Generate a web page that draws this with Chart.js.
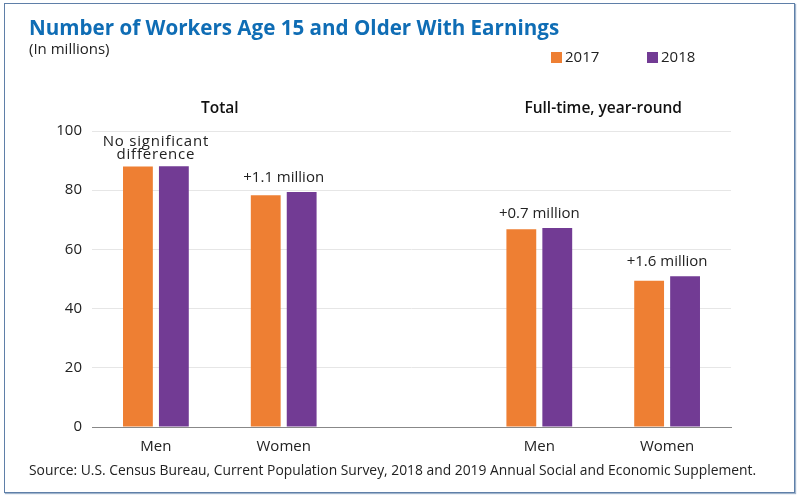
<!DOCTYPE html>
<html>
<head>
<meta charset="utf-8">
<script src="https://cdn.jsdelivr.net/npm/chart.js@4"></script>
<style>
  html, body { margin: 0; padding: 0; background: #fff; }
  #wrap { position: relative; width: 800px; height: 498px; }
  #frame { position: absolute; left: 4px; top: 3px; width: 789px; height: 488px;
           border: 1px solid #5f7fa8; box-shadow: 1px 1px 1px #9fb4cc; }
  canvas { position: absolute; left: 0; top: 0; }
</style>
</head>
<body>
<div id="wrap">
  <div id="frame"></div>
  <canvas id="chart" width="800" height="498"></canvas>
</div>
<script>
// chart data
const categories = ['Men', 'Women', '', 'Men', 'Women'];
const years = ['2017', '2018'];
const values2017 = [88.0, 78.3, null, 66.8, 49.4];
const values2018 = [88.1, 79.4, null, 67.2, 50.9];
const yTicks = [0, 20, 40, 60, 80, 100];
const notes = [['No significant', 'difference'], ['+1.1 million'], null, ['+0.7 million'], ['+1.6 million']];
const panels = [
    { label: 'Total', from: 0, to: 1 },
    { label: 'Full-time, year-round', from: 3, to: 4 }
];

const colors = ['#ee7f33', '#723b94'];
const FONT = "'Open Sans', sans-serif";

// draws title, legend, panel headings, notes and source around the bars
const decorations = {
    id: 'decorations',
    afterDatasetsDraw(chart) {
        const ctx = chart.ctx;
        const xs = chart.scales.x;
        const ys = chart.scales.y;
        ctx.save();

        // title + subtitle
        ctx.textAlign = 'left';
        ctx.textBaseline = 'alphabetic';
        ctx.fillStyle = '#0f6db5';
        ctx.font = "bold 20.6px " + FONT;
        ctx.fillText('Number of Workers Age 15 and Older With Earnings', 29, 35);
        ctx.fillStyle = '#222';
        ctx.font = "15px " + FONT;
        ctx.fillText('(In millions)', 29, 54);

        // legend
        const legendX = [551, 647];
        chart.data.datasets.forEach((ds, i) => {
            ctx.fillStyle = ds.backgroundColor;
            ctx.fillRect(legendX[i], 52, 11, 11);
            ctx.fillStyle = '#222';
            ctx.font = "15px " + FONT;
            ctx.textBaseline = 'middle';
            ctx.fillText(ds.label, legendX[i] + 14, 58);
        });

        // panel headings
        ctx.textAlign = 'center';
        ctx.textBaseline = 'middle';
        ctx.font = "600 15.5px " + FONT;
        ctx.fillStyle = '#111';
        panels.forEach(p => {
            const x = (xs.getPixelForValue(p.from) + xs.getPixelForValue(p.to)) / 2;
            ctx.fillText(p.label, x, 109);
        });

        // notes above bars
        ctx.font = "15px " + FONT;
        ctx.fillStyle = '#222';
        ctx.textBaseline = 'alphabetic';
        notes.forEach((lines, i) => {
            if (!lines) return;
            const top = Math.max(values2017[i], values2018[i]);
            const x = xs.getPixelForValue(i);
            let y = ys.getPixelForValue(top) - (lines.length > 1 ? 7 : 10);
            ctx.letterSpacing = lines.length > 1 ? '0.8px' : '0px';
            for (let k = lines.length - 1; k >= 0; k--) {
                ctx.fillText(lines[k], x, y);
                y -= 13.5;
            }
        });
        ctx.letterSpacing = '0px';

        // source
        ctx.textAlign = 'left';
        ctx.font = "13.85px " + FONT;
        ctx.fillStyle = '#222';
        ctx.fillText('Source: U.S. Census Bureau, Current Population Survey, 2018 and 2019 Annual Social and Economic Supplement.', 29, 475);

        ctx.restore();
    }
};

new Chart(document.getElementById('chart').getContext('2d'), {
    type: 'bar',
    data: {
        labels: categories,
        datasets: [
            { label: years[0], data: values2017, backgroundColor: colors[0] },
            { label: years[1], data: values2018, backgroundColor: colors[1] }
        ]
    },
    options: {
        responsive: false,
        animation: false,
        devicePixelRatio: 1,
        layout: { padding: { left: 0, right: 69, top: 131, bottom: 0 } },
        categoryPercentage: 0.5625,
        barPercentage: 0.83,
        plugins: {
            legend: { display: false },
            tooltip: { enabled: false }
        },
        scales: {
            x: {
                grid: { display: false },
                border: { color: '#888', width: 1 },
                ticks: { color: '#222', font: { family: FONT, size: 15 }, padding: 3 },
                afterFit(scale) { scale.height = 71; }
            },
            y: {
                min: 0,
                max: 100,
                afterBuildTicks(scale) { scale.ticks = yTicks.map(v => ({ value: v })); },
                grid: { color: '#e6e6e6', drawTicks: false },
                border: { display: false },
                ticks: { color: '#222', font: { family: FONT, size: 15 }, padding: 10 },
                afterFit(scale) { scale.width = 92; }
            }
        }
    },
    plugins: [decorations]
});
</script>
</body>
</html>
